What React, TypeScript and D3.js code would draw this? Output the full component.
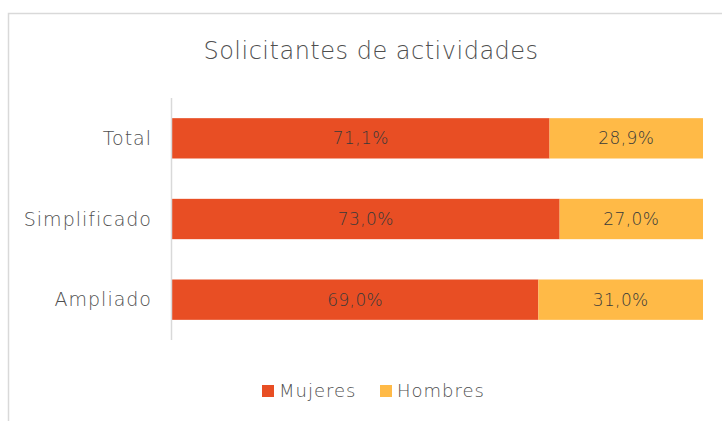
import React from "react";
import * as d3 from "d3";

const categories = ["Total", "Simplificado", "Ampliado"];
const mujeres = [71.1, 73.0, 69.0];
const hombres = [28.9, 27.0, 31.0];
const seriesNames = ["Mujeres", "Hombres"];
const title = "Solicitantes de actividades";

const colors = ["#E84E24", "#FFBA47"];
const font = "'DejaVu Sans', sans-serif";

export default function App() {
  const W = 722, H = 421;
  const x = d3.scaleLinear().domain([0, 100]).range([172, 703]);
  const y = d3.scaleBand().domain(categories).range([98, 340]).paddingInner(0.5).paddingOuter(0.25);
  const fmt = (v: number) => v.toFixed(1).replace(".", ",") + "%";
  const rows = categories.map((c, i) => ({ c, vals: [mujeres[i], hombres[i]] }));
  return (
    <svg width={W} height={H} style={{ position: "absolute", left: 0, top: 0 }}>
      <rect x={8.5} y={13.5} width={W} height={H} fill="#fff" stroke="#d9d9d9" strokeWidth={1.5} />
      <text x={371} y={59} textAnchor="middle" fontFamily={font} fontWeight={300} fontSize={24} letterSpacing={0.5} fill="#4f4f4f">{title}</text>
      {rows.map((r) => {
        let acc = 0;
        return (
          <g key={r.c}>
            {r.vals.map((v, j) => {
              const x0 = x(acc);
              acc += v;
              const x1 = x(acc);
              return (
                <g key={j}>
                  <rect x={x0} y={y(r.c)!} width={x1 - x0} height={y.bandwidth()} fill={colors[j]} />
                  <text x={(x0 + x1) / 2} y={y(r.c)! + y.bandwidth() / 2} dy="0.35em" textAnchor="middle" fontFamily={font} fontWeight={300} fontSize={17} letterSpacing={0.4} fill="#3a3a3a">{fmt(v)}</text>
                </g>
              );
            })}
            <text x={152} y={y(r.c)! + y.bandwidth() / 2} dy="0.35em" textAnchor="end" fontFamily={font} fontWeight={300} fontSize={19} letterSpacing={1} fill="#4f4f4f">{r.c}</text>
          </g>
        );
      })}
      <line x1={171.5} x2={171.5} y1={98} y2={340} stroke="#d9d9d9" strokeWidth={1.5} />
      {seriesNames.map((s, i) => {
        const lx = [262, 380][i];
        return (
          <g key={s}>
            <rect x={lx} y={385} width={12} height={12} fill={colors[i]} />
            <text x={lx + 17} y={391} dy="0.35em" fontFamily={font} fontWeight={300} fontSize={18} letterSpacing={1} fill="#4f4f4f">{s}</text>
          </g>
        );
      })}
    </svg>
  );
}
